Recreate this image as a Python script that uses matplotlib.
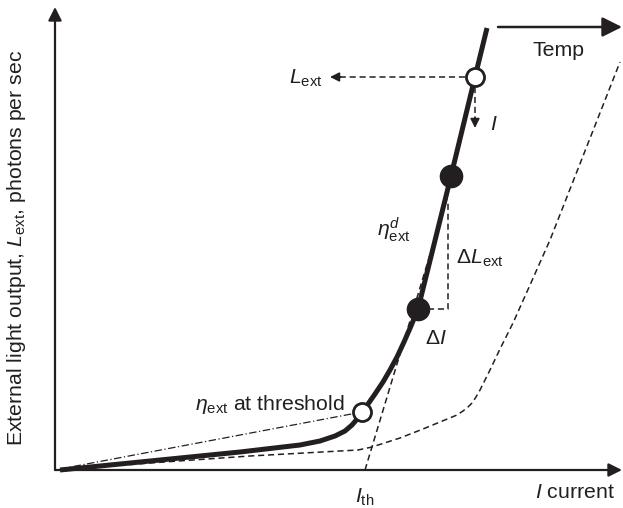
import numpy as np
import matplotlib
matplotlib.use("Agg")
import matplotlib.pyplot as plt

plt.rcParams['font.family'] = ['Liberation Sans', 'DejaVu Sans']
plt.rcParams['mathtext.fontset'] = 'custom'
plt.rcParams['mathtext.rm'] = 'Liberation Sans'
plt.rcParams['mathtext.it'] = 'Liberation Sans:italic'
plt.rcParams['mathtext.bf'] = 'Liberation Sans:bold'

INK = '#231f20'

# L-I curve at the lower temperature (current, light output), arbitrary units
current_low = [0.5, 4.5, 9.5, 14.5, 18.5, 24.5, 26.5, 28.0, 29.0, 29.7,
               30.3, 30.7, 31.3, 32.0, 32.8, 33.5, 34.2, 34.9, 35.6, 36.3,
               39.6, 42.0, 43.2]
light_low = [0.0, 0.4, 0.9, 1.4, 1.8, 2.5, 2.9, 3.4, 3.9, 4.5,
             5.2, 5.8, 6.6, 7.6, 8.8, 10.0, 11.3, 12.8, 14.4, 16.1,
             29.4, 39.3, 44.2]

# L-I curve after the temperature rise
current_high = [0.5, 9.5, 19.5, 30.3, 31.7, 34.5, 36.8, 38.5, 40.2, 40.8,
                41.3, 41.7, 42.1, 42.5, 43.0, 43.5, 44.5, 45.8, 47.5, 49.5,
                53.0, 56.5]
light_high = [0.0, 0.7, 1.4, 2.0, 2.3, 3.2, 4.1, 4.8, 5.5, 5.9,
              6.3, 6.7, 7.3, 8.0, 9.0, 10.0, 12.1, 14.7, 18.5, 23.0,
              31.9, 40.8]

# characteristic points on the curve
I_th = 31.0
threshold_pt = (30.7, 5.8)
slope_lo = (36.3, 16.1)
slope_hi = (39.6, 29.4)
operating_pt = (42.0, 39.3)
tangent_top = (39.3, 27.5)
delta_top = 27.0

fig = plt.figure(figsize=(6.23, 5.08), dpi=100)
ax = fig.add_axes([0, 0, 1, 1])
ax.set_xlim(-5.5, 56.8)
ax.set_ylim(-3.8, 47.0)
ax.axis('off')

dash = (0, (4, 2.5))

# axes with arrow heads
ax.annotate('', xy=(56.7, 0), xytext=(0, 0),
            arrowprops=dict(arrowstyle='-|>', lw=1.6, color=INK,
                            mutation_scale=20, shrinkA=0, shrinkB=0))
ax.annotate('', xy=(0, 46.3), xytext=(0, 0),
            arrowprops=dict(arrowstyle='-|>', lw=1.6, color=INK,
                            mutation_scale=20, shrinkA=0, shrinkB=0))

# curves
ax.plot(current_high, light_high, ls=dash, lw=1.1, color=INK)
ax.plot(current_low, light_low, lw=3.6, color=INK, solid_capstyle='butt',
        solid_joinstyle='round')

# efficiency at threshold (line from origin) and slope tangent
ax.plot([0.5, threshold_pt[0]], [0.1, threshold_pt[1]], ls=(0, (6, 2, 1, 2)),
        lw=0.9, color=INK)
ax.plot([I_th, tangent_top[0]], [0, tangent_top[1]], ls=dash,
        lw=1.1, color=INK)

# delta triangle
ax.plot([slope_lo[0], tangent_top[0], tangent_top[0]],
        [slope_lo[1], slope_lo[1], delta_top], ls=dash,
        lw=1.1, color=INK)

# markers
ax.plot([slope_lo[0], slope_hi[0]], [slope_lo[1], slope_hi[1]], 'o',
        ms=16, color=INK, zorder=5)
ax.plot([threshold_pt[0], operating_pt[0]], [threshold_pt[1], operating_pt[1]],
        'o', ms=13, mfc='white', mec=INK, mew=2, zorder=5)

# projections from the operating point
ax.plot([operating_pt[0] - 1.0, 28.3], [operating_pt[1], operating_pt[1]],
        ls=dash, lw=1.1, color=INK)
ax.annotate('', xy=(27.5, operating_pt[1]), xytext=(28.6, operating_pt[1]),
            arrowprops=dict(arrowstyle='-|>', lw=1.1, color=INK,
                            mutation_scale=14, shrinkA=0, shrinkB=0))
ax.plot([operating_pt[0], operating_pt[0]], [operating_pt[1] - 1.0, 35.0],
        ls=dash, lw=1.1, color=INK)
ax.annotate('', xy=(operating_pt[0], 34.2), xytext=(operating_pt[0], 35.3),
            arrowprops=dict(arrowstyle='-|>', lw=1.1, color=INK,
                            mutation_scale=14, shrinkA=0, shrinkB=0))

# temperature shift arrow
ax.annotate('', xy=(56.7, 44.3), xytext=(44.3, 44.3),
            arrowprops=dict(arrowstyle='-|>', lw=1.8, color=INK,
                            mutation_scale=30, shrinkA=0, shrinkB=0))

fs = 15.3
ax.text(50.3, 42.0, 'Temp', fontsize=fs, ha='center', va='center', color=INK)
ax.text(26.8, 39.2, r'$L_{\mathrm{ext}}$', fontsize=fs, ha='right',
        va='center', color=INK)
ax.text(43.9, 34.5, r'$I$', fontsize=fs, ha='center', va='center', color=INK)
ax.text(33.9, 24.0, r'$\eta^{d}_{\mathrm{ext}}$', fontsize=fs, ha='center',
        va='center', color=INK)
ax.text(40.1, 21.2, r'$\mathit{\Delta L}_{\mathrm{ext}}$', fontsize=fs,
        ha='left', va='center', color=INK)
ax.text(37.0, 13.2, r'$\mathit{\Delta I}$', fontsize=fs, ha='left',
        va='center', color=INK)
ax.text(29.0, 6.5, r'$\eta_{\mathrm{ext}}$ at threshold', fontsize=fs,
        ha='right', va='center', color=INK)
ax.text(I_th, -2.7, r'$I_{\mathrm{th}}$', fontsize=fs, ha='center',
        va='center', color=INK)
ax.text(52.0, -2.3, r'$I$ current', fontsize=fs, ha='center', va='center',
        color=INK)
ax.text(-3.8, 22.2, r'External light output, $L_{\mathrm{ext}}$, photons per sec',
        fontsize=fs, rotation=90, ha='center', va='center', color=INK)

fig.savefig('out.png', dpi=100)
